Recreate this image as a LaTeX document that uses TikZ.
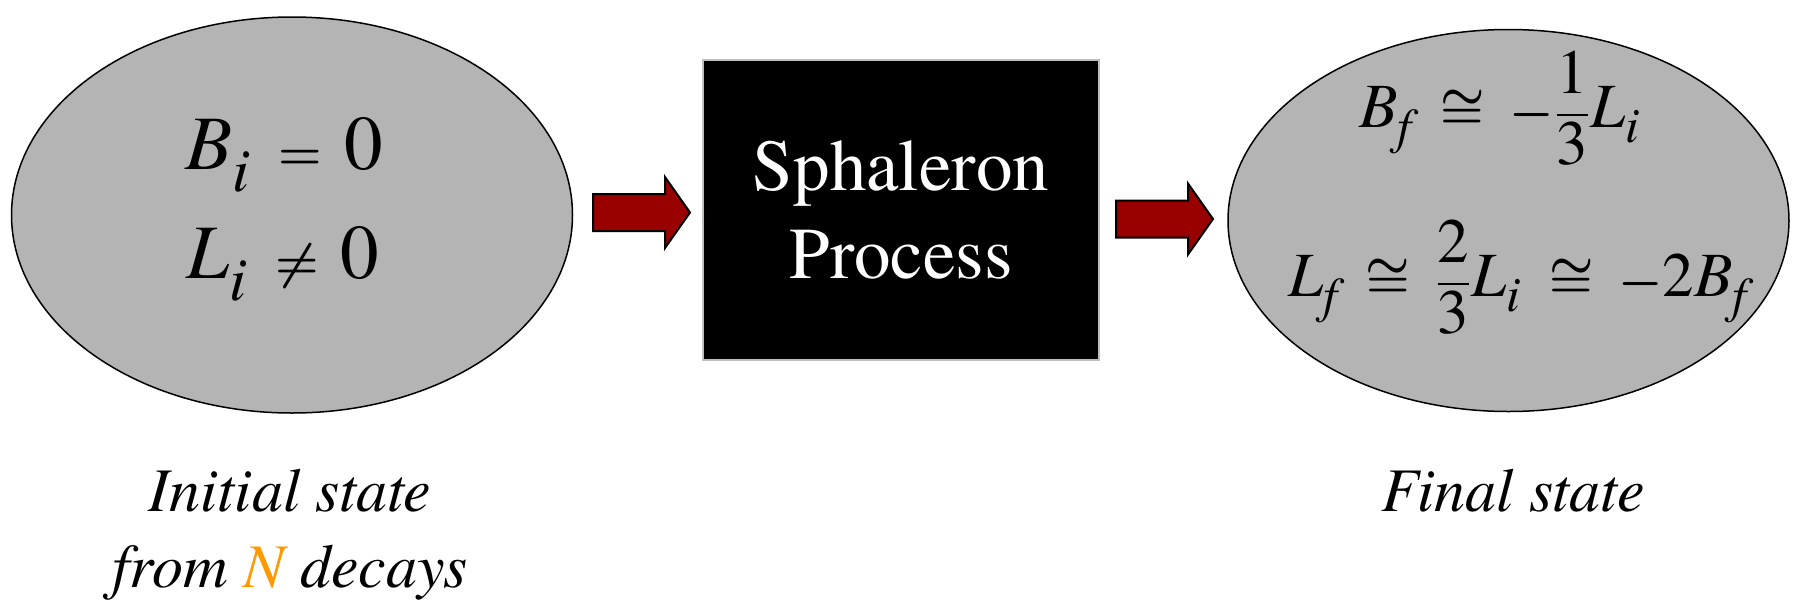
\documentclass[tikz,border=0pt]{standalone}
\usepackage{amsmath}
\usepackage{fontspec}
\setmainfont{texgyretermes}[Extension=.otf, UprightFont=*-regular, ItalicFont=*-italic,
  BoldFont=*-bold, BoldItalicFont=*-bolditalic]
\usetikzlibrary{shapes.geometric}
% slightly larger subscripts than the default 70%
\DeclareMathSizes{38.5}{38.5}{31}{25}
\DeclareMathSizes{31.5}{31.5}{25}{20}

\definecolor{stategray}{RGB}{180,180,180}
\definecolor{arrowred}{RGB}{153,0,0}
\definecolor{norange}{RGB}{255,153,0}

\begin{document}
\begin{tikzpicture}[x=0.5pt,y=-0.5pt,
  state/.style={ellipse, draw=black, line width=0.75pt, fill=stategray, inner sep=0pt},
  procbox/.style={rectangle, fill=black, draw=black!25, line width=0.6pt, inner sep=0pt,
    text=white, align=center, font=\fontsize{36.5}{44}\selectfont},
  blockarrow/.style={fill=arrowred, draw=black, line width=1pt, line join=miter},
  eqnbig/.style={anchor=base, inner sep=0pt, font=\fontsize{38.5}{46}\selectfont},
  eqnsmall/.style={anchor=base, inner sep=0pt, font=\fontsize{31.5}{40}\selectfont},
  caption/.style={anchor=base, inner sep=0pt, font=\fontsize{31}{38}\selectfont\itshape}]

  % canvas
  \fill[white] (0,0) rectangle (1795,600);
  \useasboundingbox (0,0) rectangle (1795,600);

  % states and process box
  \node[state, minimum width=280.5pt, minimum height=198pt] (init) at (292,215) {};
  \node[procbox, minimum width=198pt, minimum height=150pt] (proc) at (901,210)
    {Sphaleron\\Process};
  \node[state, minimum width=280.5pt, minimum height=191pt] (final) at (1508.5,220.5) {};

  % block arrows (tail centre given by a coordinate)
  \newcommand\fatarrow[1]{%
    \draw[blockarrow] (#1) ++(0,-18.5) -- ++(72,0) -- ++(0,-17) -- ++(25,35.5)
      -- ++(-25,35.5) -- ++(0,-17) -- ++(-72,0) -- cycle;}
  \coordinate (a1) at (593,212.5);
  \coordinate (a2) at (1116,219);
  \fatarrow{a1}
  \fatarrow{a2}

  % initial state
  \node[eqnbig] (bi) at (284,169)
    {$\mathit{B}_{\mathit{i}}\mkern5mu\boldsymbol{=}\mkern3mu\mathrm{0}$};
  \node[eqnbig] (li) at (283,278)
    {$\mathit{L}_{\mathit{i}}\mkern5mu\boldsymbol{\neq}\mkern3mu\mathrm{0}$};

  % final state
  \node[eqnsmall] (bf) at (1500,127)
    {$\mathit{B}_{\mathit{f}}\;\boldsymbol{\cong}\mkern4mu\boldsymbol{-}\dfrac{\mathrm{1}}{\mathrm{3}}\mathit{L}_{\mathit{i}}$};
  \node[eqnsmall] (lf) at (1518,296)
    {$\mathit{L}_{\mathit{f}}\;\boldsymbol{\cong}\mkern4mu\dfrac{\mathrm{2}}{\mathrm{3}}\mathit{L}_{\mathit{i}}\;\boldsymbol{\cong}\mkern4mu\boldsymbol{-}\mathrm{2}\mathit{B}_{\mathit{f}}$};

  % captions
  \node[caption] (initcap) at (290,511) {Initial state};
  \node[caption] (initcap2) at (290,587) {from \textcolor{norange}{N} decays};
  \node[caption] (finalcap) at (1513,511) {Final state};
\end{tikzpicture}
\end{document}
